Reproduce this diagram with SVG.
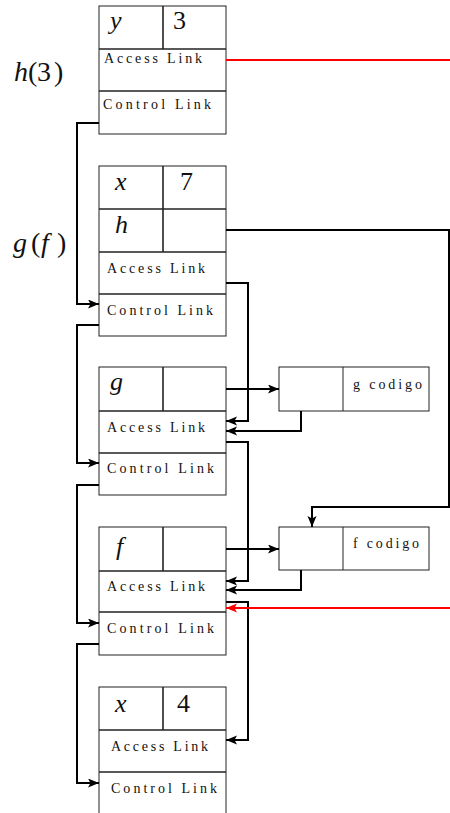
<svg xmlns="http://www.w3.org/2000/svg" width="450" height="813" viewBox="0 0 450 813">
<style>
.box{fill:#fff;stroke:#222;stroke-width:1}
.sep{stroke:#222;stroke-width:1.6}
.lbl{font-family:"Liberation Serif","Times New Roman","DejaVu Serif",serif;font-size:14px;fill:#111}
.math{font-family:"Liberation Serif","Times New Roman","DejaVu Serif",serif;font-size:26px;font-style:italic;fill:#111}
.num{font-family:"Liberation Serif","Times New Roman","DejaVu Serif",serif;font-size:26px;fill:#111}
.big{font-family:"Liberation Serif","Times New Roman","DejaVu Serif",serif;font-size:28px;fill:#111}
.con{fill:none;stroke:#000;stroke-width:2}
.red{fill:none;stroke:#f00;stroke-width:2}
</style>
<defs>
<marker id="ah" markerUnits="userSpaceOnUse" markerWidth="12" markerHeight="10" refX="11" refY="4.5" orient="auto">
<path d="M0,0 L11,4.5 L0,9 L2.5,4.5 z" fill="#000"/>
</marker>
<marker id="ahr" markerUnits="userSpaceOnUse" markerWidth="12" markerHeight="10" refX="11" refY="4.5" orient="auto">
<path d="M0,0 L11,4.5 L0,9 L2.5,4.5 z" fill="#f00"/>
</marker>
</defs>

<g id="labels">
<text y="81" class="big"><tspan x="14" font-style="italic">h</tspan><tspan x="28">(</tspan><tspan x="37">3</tspan><tspan x="54">)</tspan></text>
<text y="252" class="big"><tspan x="13" font-style="italic">g</tspan><tspan x="31">(</tspan><tspan x="41" font-style="italic">f</tspan><tspan x="57">)</tspan></text>
</g>

<g id="frame-h">
<rect class="box" x="99" y="6" width="127" height="128"/>
<line class="sep" x1="99" y1="49" x2="226" y2="49"/>
<line class="sep" x1="99" y1="91" x2="226" y2="91"/>
<line class="sep" x1="163" y1="6" x2="163" y2="49"/>
<text x="110" y="29" class="math">y</text>
<text x="173" y="29" class="num">3</text>
<text x="104" y="63" class="lbl" textLength="98" lengthAdjust="spacing">Access Link</text>
<text x="103" y="109" class="lbl" textLength="108" lengthAdjust="spacing">Control Link</text>
</g>

<g id="frame-g-f">
<rect class="box" x="99" y="166" width="127" height="170"/>
<line class="sep" x1="99" y1="209" x2="226" y2="209"/>
<line class="sep" x1="99" y1="252" x2="226" y2="252"/>
<line class="sep" x1="99" y1="294" x2="226" y2="294"/>
<line class="sep" x1="163" y1="166" x2="163" y2="252"/>
<text x="115" y="190" class="math">x</text>
<text x="180" y="190" class="num">7</text>
<text x="115" y="233" class="math">h</text>
<text x="107" y="273" class="lbl" textLength="98" lengthAdjust="spacing">Access Link</text>
<text x="107" y="315" class="lbl" textLength="106" lengthAdjust="spacing">Control Link</text>
</g>

<g id="frame-g">
<rect class="box" x="99" y="367" width="127" height="128"/>
<line class="sep" x1="99" y1="411" x2="226" y2="411"/>
<line class="sep" x1="99" y1="453" x2="226" y2="453"/>
<line class="sep" x1="163" y1="367" x2="163" y2="411"/>
<text x="110" y="390" class="math">g</text>
<text x="107" y="432" class="lbl" textLength="98" lengthAdjust="spacing">Access Link</text>
<text x="107" y="473" class="lbl" textLength="107" lengthAdjust="spacing">Control Link</text>
</g>

<g id="frame-f">
<rect class="box" x="99" y="527" width="127" height="128"/>
<line class="sep" x1="99" y1="571" x2="226" y2="571"/>
<line class="sep" x1="99" y1="612" x2="226" y2="612"/>
<line class="sep" x1="163" y1="527" x2="163" y2="571"/>
<text x="116" y="555" class="math">f</text>
<text x="107" y="591" class="lbl" textLength="98" lengthAdjust="spacing">Access Link</text>
<text x="107" y="633" class="lbl" textLength="107" lengthAdjust="spacing">Control Link</text>
</g>

<g id="frame-x4">
<rect class="box" x="99" y="687" width="127" height="140"/>
<line class="sep" x1="99" y1="730" x2="226" y2="730"/>
<line class="sep" x1="99" y1="772" x2="226" y2="772"/>
<line class="sep" x1="163" y1="687" x2="163" y2="730"/>
<text x="115" y="712" class="math">x</text>
<text x="177" y="712" class="num">4</text>
<text x="111" y="751" class="lbl" textLength="97" lengthAdjust="spacing">Access Link</text>
<text x="111" y="793" class="lbl" textLength="106" lengthAdjust="spacing">Control Link</text>
</g>

<g id="closure-g">
<rect class="box" x="279" y="367" width="150" height="44"/>
<line class="box" x1="343" y1="367" x2="343" y2="411"/>
<text x="353" y="389" class="lbl" font-size="13" textLength="69" lengthAdjust="spacing">g codigo</text>
</g>

<g id="closure-f">
<rect class="box" x="279" y="527" width="150" height="43"/>
<line class="box" x1="343" y1="527" x2="343" y2="570"/>
<text x="353" y="548" class="lbl" font-size="13" textLength="66" lengthAdjust="spacing">f codigo</text>
</g>

<g id="connectors">
<path class="con" d="M99,123 H77 V304 H99" marker-end="url(#ah)"/>
<path class="con" d="M99,325 H77 V463 H99" marker-end="url(#ah)"/>
<path class="con" d="M99,485 H77 V623 H99" marker-end="url(#ah)"/>
<path class="con" d="M99,644 H77 V783 H99" marker-end="url(#ah)"/>
<path class="con" d="M226,283 H248 V421 H226" marker-end="url(#ah)"/>
<path class="con" d="M226,442 H248 V581 H226" marker-end="url(#ah)"/>
<path class="con" d="M226,602 H248 V740 H226" marker-end="url(#ah)"/>
<path class="con" d="M226,389 H279" marker-end="url(#ah)"/>
<path class="con" d="M301,411 V431 H226" marker-end="url(#ah)"/>
<path class="con" d="M226,549 H279" marker-end="url(#ah)"/>
<path class="con" d="M301,570 V590 H226" marker-end="url(#ah)"/>
<path class="con" d="M226,230 H449 V507 H312 V527" marker-end="url(#ah)"/>
<path class="red" d="M226,60 H450"/>
<path class="red" d="M450,608 H226" marker-end="url(#ahr)"/>
</g>
</svg>
